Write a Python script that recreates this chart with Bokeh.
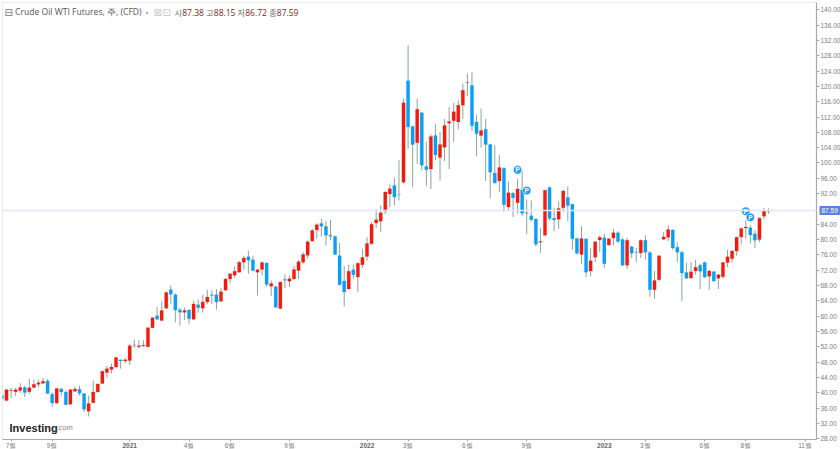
from bokeh.plotting import figure
from bokeh.models import ColumnDataSource, Range1d, FixedTicker, Label, Span, LinearAxis
from bokeh.embed import file_html
from bokeh.resources import INLINE

# weekly candles, July 2020 .. Aug 2023
opens = [39.3,38.0,40.6,40.3,40.6,41.4,40.3,41.4,42.2,42.5,43.1,39.6,37.3,41.0,40.2,37.0,40.4,40.9,39.8,35.2,37.4,40.2,42.4,45.3,46.1,46.7,48.6,48.3,48.4,52.5,52.0,52.2,52.0,57.0,60.1,58.9,62.1,66.9,65.6,61.7,61.0,61.6,59.2,63.0,62.1,63.7,65.6,65.6,63.9,66.8,69.7,70.7,71.5,74.1,75.5,74.7,71.5,72.2,73.9,67.8,67.7,62.0,69.6,69.1,69.7,71.9,74.1,75.9,79.6,82.5,84.2,83.4,81.1,80.8,75.8,69.2,67.1,72.1,70.2,73.4,75.6,78.9,84.3,84.8,87.4,91.9,94.1,91.8,95.0,121.5,109.5,105.3,113.1,99.1,98.4,107.2,101.4,104.1,110.4,111.0,110.7,115.1,121.0,120.2,110.7,107.2,108.8,104.8,97.4,95.3,98.6,88.5,92.1,89.6,93.0,87.0,86.2,85.4,79.3,81.1,93.6,85.6,85.3,88.3,91.0,89.2,80.3,76.1,80.2,71.8,75.4,79.9,80.5,78.6,80.4,81.8,80.0,73.3,78.1,76.7,76.5,79.8,76.6,66.9,69.5,80.1,80.6,82.5,78.0,76.7,71.4,70.0,71.8,73.3,74.0,70.4,71.6,69.9,70.3,74.0,75.0,77.0,80.7,83.0,83.1,81.5,80.0,86.1,87.38]
closes = [38.4,40.8,40.7,40.8,41.4,40.1,41.3,42.2,42.6,43.0,39.8,37.3,41.1,40.2,36.9,40.8,41.0,39.9,35.7,37.2,40.2,42.3,45.6,46.3,46.7,49.2,48.3,48.6,52.3,52.4,52.3,52.4,57.0,59.6,59.2,61.5,66.2,65.7,61.6,61.0,61.5,59.3,63.2,62.2,63.7,65.0,65.4,63.7,66.4,69.7,71.1,71.7,74.1,75.2,74.6,71.9,72.1,74.0,68.3,68.5,62.3,68.9,69.4,69.8,72.2,74.2,76.1,79.4,82.4,83.9,83.5,81.1,80.9,76.1,68.2,66.3,71.7,70.8,73.8,75.3,79.0,84.0,85.2,87.0,92.4,93.3,91.1,91.7,115.7,109.4,104.8,114.0,99.4,98.2,106.9,102.1,104.8,109.8,110.8,113.4,115.1,119.0,120.9,109.7,107.6,108.5,104.8,97.6,94.8,98.8,89.1,92.2,90.9,93.2,86.9,86.9,85.2,78.8,79.5,92.9,85.5,85.1,88.1,92.7,88.9,80.2,76.4,80.3,71.5,74.5,79.4,80.6,73.7,80.2,81.8,79.5,73.3,79.8,76.4,76.6,79.8,76.7,66.9,69.3,75.8,80.7,82.6,77.8,76.7,71.3,69.9,71.6,72.8,71.7,70.2,71.8,69.2,70.8,74.0,75.5,77.0,80.6,82.9,83.3,81.2,79.8,85.6,87.6,87.59]
highs = [39.5,41.0,41.2,41.3,42.5,41.8,43.6,43.4,43.4,43.9,43.6,40.1,41.3,41.3,40.6,41.0,41.6,41.9,39.9,39.3,43.2,42.4,45.8,47.0,47.6,49.3,48.6,49.1,52.8,53.9,53.7,53.7,57.1,59.8,62.4,63.8,66.5,68.0,66.0,62.2,62.2,61.8,64.0,64.4,65.6,66.9,66.7,67.1,67.4,69.9,71.3,73.0,74.4,75.8,77.1,75.8,72.4,74.3,74.0,69.3,68.0,69.0,70.9,70.6,73.1,74.7,76.7,79.8,82.8,84.3,85.4,84.8,85.2,81.1,79.1,73.1,73.5,73.5,74.1,77.6,80.6,84.6,88.0,88.9,92.6,94.4,96.1,100.7,116.8,130.7,109.8,116.8,113.3,105.6,107.5,110.1,108.1,111.5,114.6,115.7,116.3,120.7,123.3,123.7,112.6,114.2,111.5,105.0,104.6,102.0,98.9,95.2,92.4,95.9,97.9,90.4,90.2,85.5,83.1,93.0,93.9,88.3,90.0,93.0,93.9,89.4,80.5,83.5,80.2,77.9,79.6,81.1,81.5,80.5,82.8,82.2,80.5,80.5,78.4,77.8,80.0,81.1,77.0,71.8,75.8,81.9,83.7,82.7,79.3,77.0,74.0,74.1,74.7,73.7,74.3,72.1,71.8,71.0,74.2,77.3,77.3,80.8,83.2,85.0,83.7,82.4,85.8,88.3,88.15]
lows = [38.2,37.8,38.6,39.1,40.0,38.9,39.7,41.3,41.5,42.3,39.7,36.3,37.1,39.1,36.8,36.9,40.2,39.3,35.0,33.8,37.3,40.1,42.3,43.9,45.1,46.5,46.3,47.7,47.3,51.7,51.5,52.0,51.9,56.9,59.0,58.7,61.9,63.2,58.4,57.5,59.0,57.9,59.0,60.9,60.9,63.2,63.2,61.7,63.7,66.7,68.6,70.0,71.4,72.1,71.1,71.7,65.4,70.6,67.7,65.2,62.2,61.8,67.3,67.6,69.6,69.7,73.7,75.1,79.4,80.2,80.8,78.4,79.8,76.0,68.0,62.6,66.9,69.8,66.3,72.6,74.5,78.7,83.0,82.0,86.7,88.5,88.9,90.2,94.6,103.7,93.7,99.8,98.1,94.0,93.2,100.8,95.4,100.5,98.4,105.5,108.8,111.5,117.4,108.3,101.7,104.0,95.3,90.8,94.6,92.4,87.2,87.5,85.9,86.8,86.2,81.4,84.6,78.2,76.5,81.0,85.0,82.2,82.8,87.2,84.8,77.4,76.1,73.7,70.2,70.4,74.1,76.8,72.5,78.4,78.5,79.1,73.1,72.4,75.2,74.1,75.2,74.7,65.1,64.5,69.3,79.9,79.6,77.3,74.1,63.8,69.7,69.7,70.9,67.1,70.0,66.9,68.9,67.1,69.8,72.8,74.0,75.8,78.7,80.2,79.0,77.8,79.3,85.2,86.72]

# "P" markers on the chart
p_weeks = [113, 115, 163, 164]
p_values = [98.2, 92.8, 87.4, 85.8]

last_price = 87.59
y_ticks = [t for t in range(28, 144, 4) if t != 88]
x_tick_weeks = [2, 11, 28, 41, 50, 63, 80, 89, 102, 115, 132, 141, 154, 163, 176]
x_tick_labels = ["7월", "9월", "", "4월", "6월", "9월", "", "3월", "6월", "9월", "", "3월", "6월", "8월", "11월"]
year_weeks = [28, 80, 132]
year_labels = ["2021", "2022", "2023"]

UP, DOWN = "#f01c10", "#0a9ef5"
WICK = "#8ea39c"
LABEL = "#7c7c7c"
KR = "Noto Sans CJK KR"
Y_HEAD = 139.3      # header row, on the price scale
Y_BRAND = 30.9

n = len(opens)
src = ColumnDataSource(dict(
    x=list(range(n)), o=opens, c=closes, h=highs, l=lows,
    top=[max(a, b) for a, b in zip(opens, closes)],
    bot=[min(a, b) for a, b in zip(opens, closes)],
    col=[UP if c >= o else DOWN for o, c in zip(opens, closes)],
))

p = figure(frame_width=814, frame_height=437, output_backend="svg", toolbar_location=None,
           x_range=Range1d(0.12, 178.5), y_range=Range1d(27.8, 141.9),
           y_axis_location="right", min_border_left=2, min_border_top=2,
           min_border_right=0, min_border_bottom=0, background_fill_color="white",
           outline_line_color="#e6e9ee", margin=(0, 0, 0, 0))
p.grid.visible = False

for ax in (p.xaxis[0], p.yaxis[0]):
    ax.axis_line_color = "#a8a8a8"
    ax.axis_line_width = 1.2
    ax.major_tick_line_color = "#a8a8a8"
    ax.major_tick_out = 2
    ax.major_tick_in = 0
    ax.minor_tick_line_color = None
    ax.major_label_text_color = LABEL
    ax.major_label_text_font_size = "6.5px"
    ax.major_label_text_font = "Liberation Sans"
    ax.major_label_standoff = 0
p.yaxis[0].major_tick_out = 3
p.yaxis[0].major_label_standoff = 1

p.yaxis[0].ticker = FixedTicker(ticks=y_ticks)
p.yaxis[0].major_label_overrides = {t: f"{t:.2f}" for t in y_ticks}
p.xaxis[0].ticker = FixedTicker(ticks=x_tick_weeks)
p.xaxis[0].major_label_overrides = dict(zip(x_tick_weeks, x_tick_labels))

# the year labels are bold: a second axis folded back over the month axis
years = LinearAxis(ticker=FixedTicker(ticks=year_weeks),
                   major_label_overrides=dict(zip(year_weeks, year_labels)),
                   axis_line_color=None, major_tick_line_color=None, minor_tick_line_color=None,
                   major_tick_out=0, major_tick_in=0, major_label_standoff=-9,
                   major_label_text_color="#666666", major_label_text_font_size="6.5px",
                   major_label_text_font="Liberation Sans", major_label_text_font_style="bold")
p.add_layout(years, "below")

# the last-price tag: a thick tick drawn back over the price axis, with its label on top
tag = LinearAxis(ticker=FixedTicker(ticks=[last_price]),
                 major_label_overrides={last_price: f"{last_price:.2f}"},
                 axis_line_color=None, minor_tick_line_color=None,
                 major_tick_line_color="#5b82e2", major_tick_line_width=9, major_tick_out=0, major_tick_in=24,
                 major_label_standoff=-22, major_label_text_color="white", major_label_text_font_size="6.5px",
                 major_label_text_font="Liberation Sans")
p.add_layout(tag, "right")

p.add_layout(Span(location=last_price, dimension="width", line_color="#e3e7f8", line_width=1.5))

p.segment("x", "h", "x", "l", source=src, line_color=WICK, line_width=1)
p.vbar("x", 0.72, "top", "bot", source=src, fill_color="col", line_color="col", line_width=0.2)

p.scatter(p_weeks, p_values, size=8.5, marker="circle", fill_color="#1b9df0", line_color="white", line_width=0.6)
for w, v in zip(p_weeks, p_values):
    p.add_layout(Label(x=w, y=v, text="P", text_color="white", text_font_size="6.5px", text_font_style="bold",
                       text_align="center", text_baseline="middle", text_font="Liberation Sans"))


def head(x, text, color="#555555", size="8.6px", font="Open Sans"):
    p.add_layout(Label(x=x - 2, y=Y_HEAD, x_units="screen", text=text, text_color=color,
                       text_font_size=size, text_font=font, text_baseline="middle"))


head(4, "⊟", "#777777", "10px", "DejaVu Sans")
head(14.5, "Crude Oil WTI Futures, 주, (CFD)")
head(145, "▾", "#aaaaaa", "6px", "DejaVu Sans")
head(153, "⊠", "#c8c8c8", "10px", "DejaVu Sans")
head(162, "⊡", "#c8c8c8", "10px", "DejaVu Sans")
for x, k, xv, val in [(174, "시", 181.7, "87.38"), (205.7, "고", 213.3, "88.15"),
                      (237, "저", 244.7, "86.72"), (268.7, "종", 276.3, "87.59")]:
    head(x, k, "#666666", "8px", KR)
    head(xv, val, "#7b2a22", "8.5px")

p.add_layout(Label(x=7, y=Y_BRAND, x_units="screen", text="Investing", text_color="#222222",
                   text_font_size="11px", text_font_style="bold", text_font="Liberation Sans", text_baseline="middle"))
p.add_layout(Label(x=54, y=Y_BRAND, x_units="screen", text=".com", text_color="#8a8a8a",
                   text_font_size="7.5px", text_font="Liberation Sans", text_baseline="middle"))

open("out.html", "w").write(file_html(p, INLINE))
